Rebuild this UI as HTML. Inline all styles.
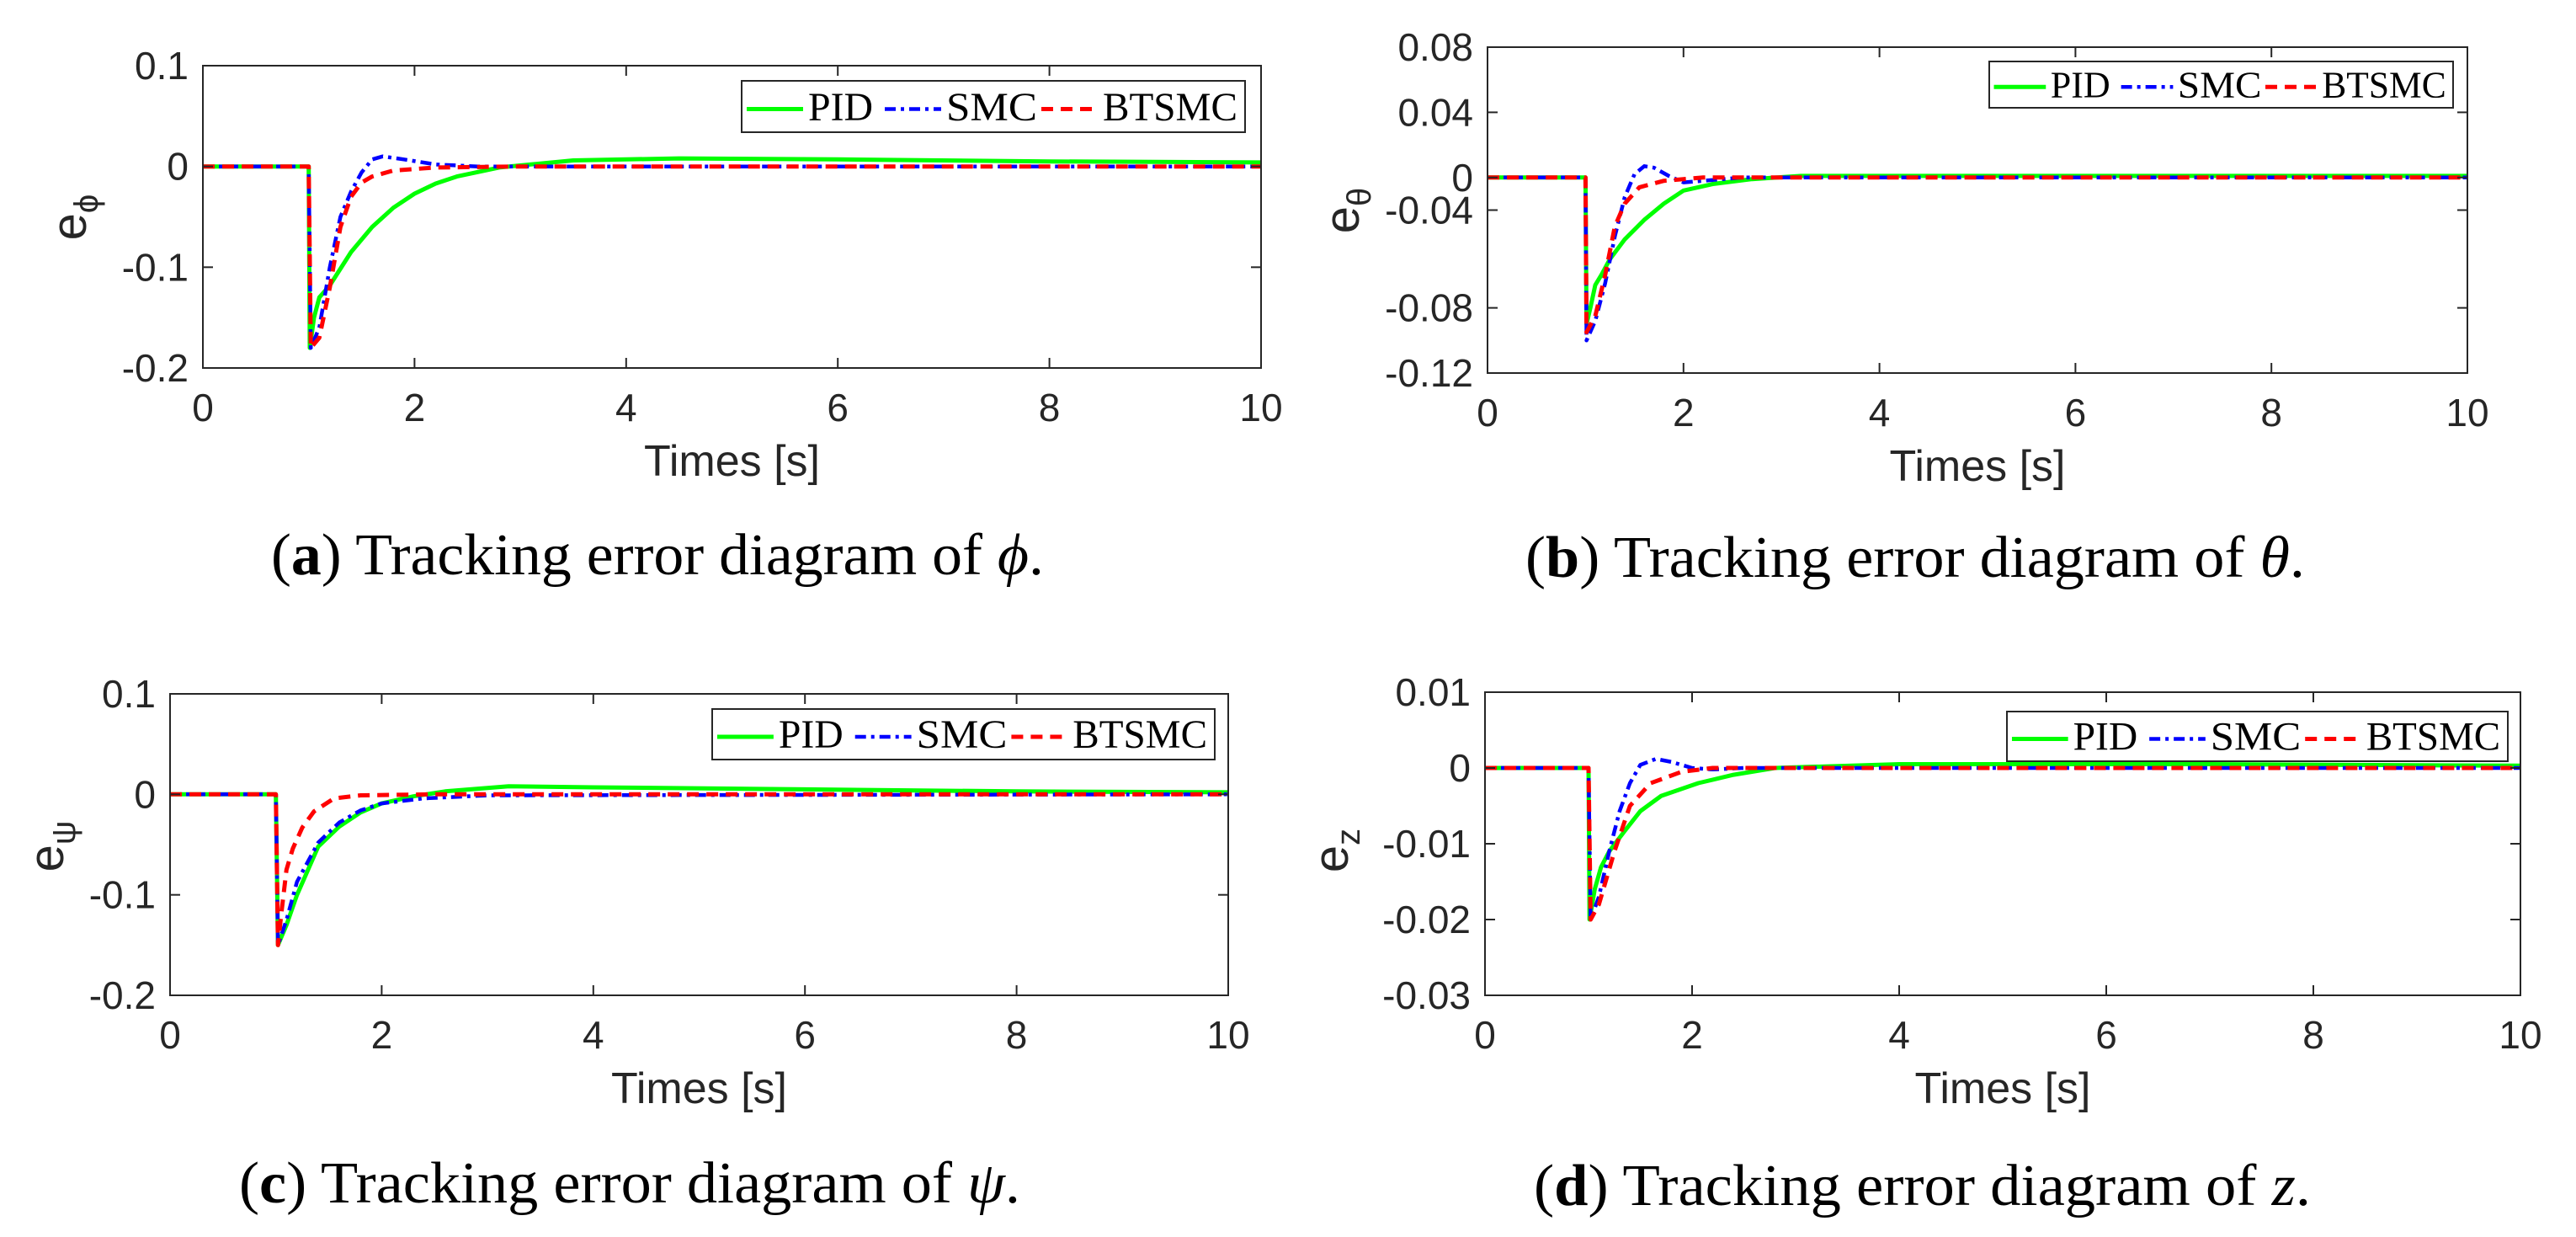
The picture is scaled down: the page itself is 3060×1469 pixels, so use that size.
<!DOCTYPE html>
<html><head><meta charset="utf-8"><style>
html,body{margin:0;padding:0;background:#fff;}
svg{display:block;}
</style></head>
<body>
<svg id="fig" width="3060" height="1469" viewBox="0 0 3060 1469" xmlns="http://www.w3.org/2000/svg"></svg>
<script>
// ---------- data ----------
const xTicks = [0, 2, 4, 6, 8, 10];
const seriesNames = ["PID", "SMC", "BTSMC"];

// panel a (phi)
const aTicks = [0.1, 0, -0.1, -0.2];
const aTickLabels = ["0.1", "0", "-0.1", "-0.2"];
const aPID_t = [0, 1, 1.01, 1.05, 1.1, 1.2, 1.4, 1.6, 1.8, 2.0, 2.2, 2.4, 2.8, 3.5, 4.5, 6, 8, 10];
const aPID_v = [0, 0, -0.18, -0.15, -0.13, -0.118, -0.085, -0.06, -0.041, -0.027, -0.017, -0.01, -0.001, 0.006, 0.008, 0.007, 0.005, 0.004];
const aSMC_t = [0, 1, 1.02, 1.1, 1.2, 1.3, 1.4, 1.5, 1.6, 1.7, 1.9, 2.2, 2.6, 10];
const aSMC_v = [0, 0, -0.18, -0.16, -0.1, -0.05, -0.025, -0.006, 0.007, 0.01, 0.007, 0.002, 0, 0];
const aBTS_t = [0, 1, 1.02, 1.1, 1.2, 1.3, 1.4, 1.5, 1.6, 1.8, 2.2, 3, 10];
const aBTS_v = [0, 0, -0.18, -0.17, -0.12, -0.06, -0.03, -0.016, -0.01, -0.004, -0.001, 0, 0];

// panel b (theta)
const bTicks = [0.08, 0.04, 0, -0.02, -0.08, -0.12];
const bTickLabels = ["0.08", "0.04", "0", "-0.04", "-0.08", "-0.12"];
const bPID_t = [0, 1, 1.01, 1.05, 1.1, 1.16, 1.25, 1.4, 1.6, 1.8, 2.0, 2.3, 2.7, 3.2, 6, 10];
const bPID_v = [0, 0, -0.09, -0.08, -0.066, -0.06, -0.05, -0.038, -0.026, -0.016, -0.008, -0.004, -0.001, 0.001, 0.001, 0.001];
const bSMC_t = [0, 1, 1.01, 1.1, 1.2, 1.3, 1.4, 1.5, 1.6, 1.7, 1.85, 2.0, 2.2, 2.6, 10];
const bSMC_v = [0, 0, -0.1, -0.088, -0.065, -0.036, -0.012, 0.002, 0.007, 0.006, 0.001, -0.003, -0.002, 0, 0];
const bBTS_t = [0, 1, 1.01, 1.1, 1.2, 1.3, 1.4, 1.55, 1.8, 2.2, 10];
const bBTS_v = [0, 0, -0.095, -0.085, -0.06, -0.03, -0.016, -0.006, -0.002, 0, 0];

// panel c (psi)
const cTicks = [0.1, 0, -0.1, -0.2];
const cTickLabels = ["0.1", "0", "-0.1", "-0.2"];
const cPID_t = [0, 1, 1.02, 1.1, 1.2, 1.4, 1.6, 1.8, 2.0, 2.3, 2.6, 3.2, 4, 6, 8, 10];
const cPID_v = [0, 0, -0.15, -0.13, -0.1, -0.052, -0.032, -0.018, -0.009, -0.002, 0.003, 0.008, 0.007, 0.005, 0.003, 0.002];
const cSMC_t = [0, 1, 1.02, 1.1, 1.2, 1.4, 1.6, 1.8, 2.0, 2.4, 3, 10];
const cSMC_v = [0, 0, -0.15, -0.125, -0.087, -0.048, -0.028, -0.016, -0.009, -0.004, -0.001, 0];
const cBTS_t = [0, 1, 1.02, 1.05, 1.1, 1.16, 1.25, 1.36, 1.55, 1.8, 2.5, 10];
const cBTS_v = [0, 0, -0.15, -0.12, -0.075, -0.054, -0.033, -0.017, -0.004, -0.001, 0, 0];

// panel d (z)
const dTicks = [0.01, 0, -0.01, -0.02, -0.03];
const dTickLabels = ["0.01", "0", "-0.01", "-0.02", "-0.03"];
const dPID_t = [0, 1, 1.01, 1.06, 1.12, 1.2, 1.35, 1.5, 1.7, 2.06, 2.4, 2.8, 4, 7, 10];
const dPID_v = [0, 0, -0.02, -0.016, -0.0131, -0.011, -0.0083, -0.0057, -0.0037, -0.002, -0.0009, 0, 0.0005, 0.0005, 0.0003];
const dSMC_t = [0, 1, 1.02, 1.1, 1.2, 1.3, 1.4, 1.5, 1.65, 1.8, 2.0, 2.2, 2.5, 10];
const dSMC_v = [0, 0, -0.02, -0.017, -0.011, -0.0057, -0.002, 0.0004, 0.0012, 0.0008, 0, -0.0002, 0, 0];
const dBTS_t = [0, 1, 1.02, 1.1, 1.25, 1.4, 1.6, 1.9, 2.2, 10];
const dBTS_v = [0, 0, -0.02, -0.018, -0.011, -0.005, -0.002, -0.0005, 0, 0];

// ---------- layout ----------
const NS = "http://www.w3.org/2000/svg";
const svg = document.getElementById("fig");
function mk(tag, attrs, parent) {
  const e = document.createElementNS(NS, tag);
  for (const k in attrs) e.setAttribute(k, attrs[k]);
  (parent || svg).appendChild(e);
  return e;
}
const colors = ["#00ff00", "#0000ff", "#ff0000"];
const widths = [5, 4.5, 5];
const dashes = ["none", "13 6 4 6", "14 9"];

function panel(cfg) {
  const g = mk("g", {});
  
  
  const L = cfg.box[0], T = cfg.box[1], R = cfg.box[2], B = cfg.box[3];
  const ymax = cfg.ticks[0], ymin = cfg.ticks[cfg.ticks.length - 1];
  const sx = t => L + (t - 0) / 10 * (R - L);
  const sy = v => T + (ymax - v) / (ymax - ymin) * (B - T);
  // series
  const ser = [[cfg.pt, cfg.pv], [cfg.st, cfg.sv], [cfg.bt, cfg.bv]];
  ser.forEach((s, i) => {
    const pts = s[0].map((t, j) => sx(t).toFixed(1) + "," + sy(s[1][j]).toFixed(1)).join(" ");
    const pl = mk("polyline", {points: pts, fill: "none", stroke: colors[i], "stroke-width": widths[i], "stroke-dasharray": dashes[i], "stroke-linejoin": "round"}, g);
    
    
  });
  // frame
  const fr = mk("rect", {x: L, y: T, width: R - L, height: B - T, fill: "none", stroke: "#262626", "stroke-width": 2}, g);
  
  
  // x ticks
  xTicks.forEach(t => {
    const x = sx(t);
    mk("line", {x1: x, y1: B, x2: x, y2: B - 12, stroke: "#262626", "stroke-width": 2}, g);
    mk("line", {x1: x, y1: T, x2: x, y2: T + 12, stroke: "#262626", "stroke-width": 2}, g);
    const tx = mk("text", {x: x, y: B + 63, "text-anchor": "middle", "font-family": "Liberation Sans, sans-serif", "font-size": 46, fill: "#262626"}, g);
    tx.textContent = String(t);
    
    
  });
  // y ticks
  cfg.ticks.forEach((v, i) => {
    const y = sy(v);
    mk("line", {x1: L, y1: y, x2: L + 12, y2: y, stroke: "#262626", "stroke-width": 2}, g);
    mk("line", {x1: R, y1: y, x2: R - 12, y2: y, stroke: "#262626", "stroke-width": 2}, g);
    const tx = mk("text", {x: L - 17, y: y + 16, "text-anchor": "end", "font-family": "Liberation Sans, sans-serif", "font-size": 46, fill: "#262626"}, g);
    tx.textContent = cfg.labels[i];
    
    
  });
  // x title
  const xt = mk("text", {x: (L + R) / 2, y: B + 128, "text-anchor": "middle", "font-family": "Liberation Sans, sans-serif", "font-size": 52, fill: "#262626"}, g);
  xt.textContent = "Times [s]";
  
  
  // y title
  const yt = mk("text", {transform: "translate(" + (cfg.ylab[0] + 16) + "," + cfg.ylab[1] + ") rotate(-90)", "text-anchor": "middle", "font-family": "Liberation Sans, DejaVu Sans, sans-serif", "font-size": 58, fill: "#262626"}, g);
  
  
  const t1 = mk("tspan", {}, yt); t1.textContent = "e";
  const t2 = mk("tspan", {"font-size": 40, dy: 14}, yt); t2.textContent = cfg.sub;
  // legend
  const lg = mk("g", {}, g);
  
  
  const lx = cfg.leg[0], ly = cfg.leg[1], lw = cfg.leg[2] - cfg.leg[0], lh = cfg.leg[3] - cfg.leg[1];
  mk("rect", {x: lx, y: ly, width: lw, height: lh, fill: "#fff", stroke: "#262626", "stroke-width": 2}, lg);
  const k = lw / 598;
  const segs = [[6, 73, 79], [170, 237, 243], [356, 423, 429]];
  const tl = [77, 108, 160];
  segs.forEach((s, i) => {
    const e = mk("g", {}, lg);
    
    
    mk("line", {x1: lx + s[0] * k, y1: ly + lh * 0.55, x2: lx + s[1] * k, y2: ly + lh * 0.55, stroke: colors[i], "stroke-width": widths[i], "stroke-dasharray": dashes[i]}, e);
    const tx = mk("text", {x: lx + s[2] * k, y: ly + lh * 0.77, "font-family": "Liberation Serif, serif", "font-size": 48 * k, fill: "#000", textLength: tl[i] * k, lengthAdjust: "spacingAndGlyphs"}, e);
    tx.textContent = seriesNames[i];
  });
  // caption
  const cp = mk("text", {x: cfg.cap[0], y: cfg.cap[1], "font-family": "Liberation Serif, DejaVu Serif, serif", "font-size": 70, fill: "#000", textLength: cfg.cap[2], lengthAdjust: "spacingAndGlyphs"}, g);
  
  
  const c1 = mk("tspan", {}, cp); c1.textContent = "(";
  const c2 = mk("tspan", {"font-weight": "bold"}, cp); c2.textContent = cfg.letter;
  const c3 = mk("tspan", {}, cp); c3.textContent = ") Tracking error diagram of ";
  const c4 = mk("tspan", {"font-style": "italic"}, cp); c4.textContent = cfg.sym;
  const c5 = mk("tspan", {}, cp); c5.textContent = ".";
}

panel({name: "panel-a-phi", box: [241, 78, 1498, 437], ticks: aTicks, labels: aTickLabels,
  pt: aPID_t, pv: aPID_v, st: aSMC_t, sv: aSMC_v, bt: aBTS_t, bv: aBTS_v,
  ylab: [86, 258], sub: "ϕ", leg: [881, 96, 1479, 157], cap: [322, 682, 918], letter: "a", sym: "ϕ"});
panel({name: "panel-b-theta", box: [1767, 56, 2931, 443], ticks: bTicks, labels: bTickLabels,
  pt: bPID_t, pv: bPID_v, st: bSMC_t, sv: bSMC_v, bt: bBTS_t, bv: bBTS_v,
  ylab: [1598, 250], sub: "θ", leg: [2363, 73, 2914, 128], cap: [1812, 685, 926], letter: "b", sym: "θ"});
panel({name: "panel-c-psi", box: [202, 824, 1459, 1182], ticks: cTicks, labels: cTickLabels,
  pt: cPID_t, pv: cPID_v, st: cSMC_t, sv: cSMC_v, bt: cBTS_t, bv: cBTS_v,
  ylab: [59, 1005], sub: "ψ", leg: [846, 842, 1443, 902], cap: [284, 1428, 928], letter: "c", sym: "ψ"});
panel({name: "panel-d-z", box: [1764, 822, 2994, 1182], ticks: dTicks, labels: dTickLabels,
  pt: dPID_t, pv: dPID_v, st: dSMC_t, sv: dSMC_v, bt: dBTS_t, bv: dBTS_v,
  ylab: [1585, 1010], sub: "z", leg: [2384, 845, 2979, 904], cap: [1822, 1431, 923], letter: "d", sym: "z"});
</script>
</body></html>
